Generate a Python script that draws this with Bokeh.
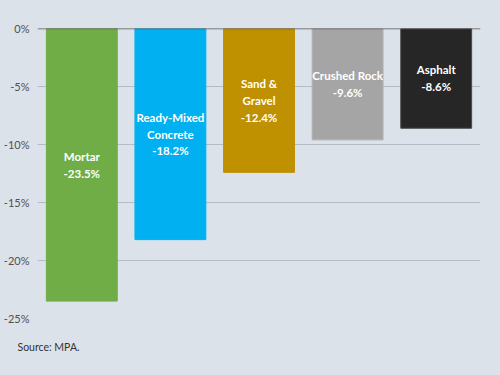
from bokeh.plotting import figure
from bokeh.models import Range1d, FactorRange, Span, Title, PrintfTickFormatter, FixedTicker, ColumnDataSource
from bokeh.core.properties import value
from bokeh.embed import file_html
from bokeh.resources import INLINE

categories = ["Mortar", "Ready-Mixed Concrete", "Sand & Gravel", "Crushed Rock", "Asphalt"]
display_names = ["Mortar", "Ready-Mixed\nConcrete", "Sand &\nGravel", "Crushed Rock", "Asphalt"]
changes = [-23.5, -18.2, -12.4, -9.6, -8.6]
colors = ["#70AD47", "#00B0F0", "#BF9000", "#A5A5A5", "#262626"]
outline = ["#70AD47", "#00B0F0", "#BF9000", "#B0B0B0", "#4A4A4A"]
y_ticks = [0, -5, -10, -15, -20, -25]
source_note = "Source: MPA."

BG = "#DCE2E9"

src = ColumnDataSource(dict(
    cat=categories,
    val=changes,
    mid=[v / 2 for v in changes],
    label=[f"{n}\n{v:.1f}%" for n, v in zip(display_names, changes)],
    color=colors,
    outline=outline,
))

p = figure(width=500, height=375, output_backend="svg", toolbar_location=None,
           x_range=FactorRange(*categories, range_padding=0),
           y_range=Range1d(-25, 0), x_axis_location=None,
           min_border_left=35, min_border_right=20, min_border_top=28, min_border_bottom=57,
           background_fill_color=BG, border_fill_color=BG, outline_line_color=None)

p.vbar(x="cat", top="val", bottom=0, width=0.8, source=src,
       fill_color="color", line_color="outline", line_width=1)

p.text(x="cat", y="mid", text="label", source=src, text_color="white",
       text_font=value("Lato"), text_font_style="bold", text_font_size="11.5px",
       text_align="center", text_baseline="middle", text_line_height=1.3)

p.add_layout(Span(location=0, dimension="width", line_color="#595959", line_width=1.5))

p.yaxis.ticker = FixedTicker(ticks=y_ticks)
p.yaxis.formatter = PrintfTickFormatter(format="%d%%")
p.yaxis.axis_line_color = None
p.yaxis.major_tick_line_color = None
p.yaxis.minor_tick_line_color = None
p.yaxis.major_tick_out = 0
p.yaxis.major_tick_in = 0
p.yaxis.major_label_text_color = "#505050"
p.yaxis.major_label_text_font = "Lato"
p.yaxis.major_label_text_font_size = "11px"
p.yaxis.major_label_standoff = 8

p.xgrid.grid_line_color = None
p.ygrid.ticker = FixedTicker(ticks=y_ticks[1:])
p.ygrid.grid_line_color = "#B5BBC2"
p.ygrid.grid_line_width = 1.2

p.add_layout(Title(text=source_note, align="left", offset=-20, standoff=41,
                   text_font="Lato", text_font_size="10.5px", text_font_style="normal",
                   text_color="#333333"), "below")

html = file_html(p, INLINE)
html = html.replace("<head>", "<head><style>html,body{margin:0;padding:0;background:%s;overflow:hidden}</style>" % BG, 1)
open("out.html", "w").write(html)
